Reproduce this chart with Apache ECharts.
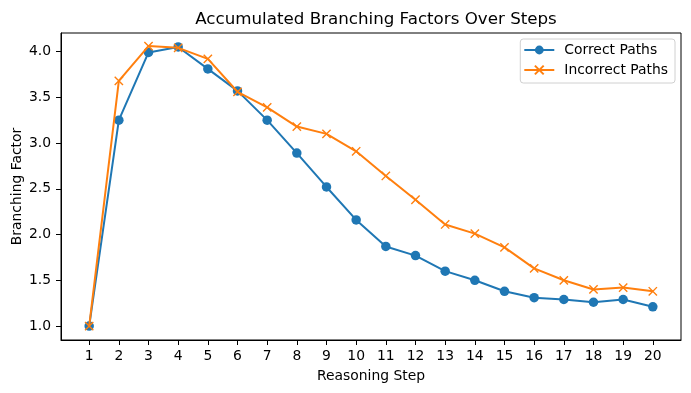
<!DOCTYPE html>
<html>
<head>
<meta charset="utf-8">
<script src="https://cdn.jsdelivr.net/npm/echarts@6/dist/echarts.min.js"></script>
<style>
html,body{margin:0;padding:0;background:#fff;}
#chart{width:691px;height:393px;}
</style>
</head>
<body>
<div id="chart"></div>
<script>
const steps = [1,2,3,4,5,6,7,8,9,10,11,12,13,14,15,16,17,18,19,20];
const correctPaths = [1.00,3.25,3.99,4.05,3.81,3.57,3.25,2.89,2.52,2.16,1.87,1.77,1.60,1.50,1.38,1.31,1.29,1.26,1.29,1.21];
const incorrectPaths = [1.00,3.68,4.06,4.04,3.92,3.56,3.39,3.18,3.10,2.91,2.64,2.38,2.11,2.01,1.86,1.63,1.50,1.40,1.42,1.38];
const yTicks = [1.0,1.5,2.0,2.5,3.0,3.5,4.0];
const xTicks = steps;

const FONT = 'DejaVu Sans';
const xMark = 'path://M0,0 L10,10 M10,0 L0,10';

const chart = echarts.init(document.getElementById('chart'), null, {renderer:'canvas'});
chart.setOption({
  animation: false,
  backgroundColor: '#fff',
  textStyle: {fontFamily: FONT},
  title: {
    text: 'Accumulated Branching Factors Over Steps',
    left: 371, top: 6, textAlign: 'center',
    textStyle: {fontFamily: FONT, fontSize: 16.7, fontWeight: 'normal', color: '#000'}
  },
  legend: {
    orient: 'vertical',
    right: 16, top: 39,
    itemWidth: 30, itemHeight: 11, itemGap: 6,
    padding: [4, 7, 6, 3],
    borderColor: '#d0d0d0', borderWidth: 1, borderRadius: 3,
    backgroundColor: 'rgba(255,255,255,0.8)',
    textStyle: {fontFamily: FONT, fontSize: 13.9, color: '#000', padding: [0,0,0,5]},
    data: ['Correct Paths', 'Incorrect Paths']
  },
  grid: {
    left: 61, right: 10, top: 33, bottom: 53,
    containLabel: false, outerBoundsMode: 'none',
    show: true, borderColor: '#000', borderWidth: 1, backgroundColor: 'transparent'
  },
  xAxis: {
    type: 'value', min: 0.05, max: 20.95,
    name: 'Reasoning Step', nameLocation: 'middle', nameGap: 29, nameMoveOverlap: false,
    nameTextStyle: {fontFamily: FONT, fontSize: 13.9, color: '#000'},
    axisLine: {show: true, lineStyle: {color: '#000', width: 1}},
    axisTick: {show: true, length: 5, lineStyle: {color: '#000', width: 1}, customValues: xTicks},
    axisLabel: {fontFamily: FONT, fontSize: 13.9, color: '#000', margin: 9, customValues: xTicks,
      formatter: v => String(v)},
    splitLine: {show: false}
  },
  yAxis: {
    type: 'value', min: 0.8475, max: 4.2025,
    name: 'Branching Factor', nameLocation: 'middle', nameGap: 37, nameRotate: 90, nameMoveOverlap: false,
    nameTextStyle: {fontFamily: FONT, fontSize: 13.9, color: '#000'},
    axisLine: {show: true, lineStyle: {color: '#000', width: 1}},
    axisTick: {show: true, length: 5, lineStyle: {color: '#000', width: 1}, customValues: yTicks},
    axisLabel: {fontFamily: FONT, fontSize: 13.9, color: '#000', margin: 10, customValues: yTicks,
      formatter: v => Number(v).toFixed(1)},
    splitLine: {show: false}
  },
  series: [
    {
      name: 'Correct Paths', type: 'line',
      data: steps.map((s, i) => [s, correctPaths[i]]),
      symbol: 'circle', symbolSize: 9.5, showSymbol: true,
      lineStyle: {color: '#1f77b4', width: 2},
      itemStyle: {color: '#1f77b4'},
      z: 2
    },
    {
      name: 'Incorrect Paths', type: 'line',
      data: steps.map((s, i) => [s, incorrectPaths[i]]),
      symbol: xMark, symbolSize: 8.3, showSymbol: true,
      lineStyle: {color: '#ff7f0e', width: 2},
      itemStyle: {color: '#ff7f0e', borderColor: '#ff7f0e', borderWidth: 1.4},
      z: 3
    }
  ]
});
</script>
</body>
</html>
